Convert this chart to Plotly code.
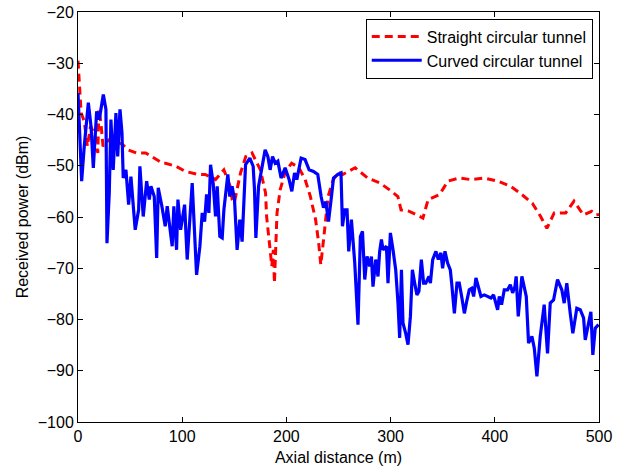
import plotly.graph_objects as go

# Straight circular tunnel (red dashed)
straight_x = [0, 1, 3, 6, 9, 12, 16, 19, 20, 22, 24, 27, 30, 36, 43, 48, 56, 65, 73, 81,
              84, 94, 103, 115, 122, 132, 140, 146, 148, 150, 156, 161, 167, 175, 180, 181,
              184, 186, 187.5, 188.5, 191, 194, 199, 205, 212, 218, 223, 228, 231, 233, 236,
              240, 245, 250, 254, 266, 278, 290, 299, 307, 310, 318, 325, 331, 336, 347, 355,
              366, 377, 390, 403, 415, 424, 436, 444, 450, 457, 468, 476, 485, 493, 497, 500]
straight_y = [-29.5, -33.5, -39.7, -41.3, -46.2, -42.3, -43.9, -47.5, -39.0, -41.6, -46.2,
              -45.5, -44.9, -45.2, -45.9, -46.9, -47.5, -47.5, -48.5, -49.5, -49.5, -50.1,
              -51.1, -51.7, -51.7, -52.7, -50.8, -54.0, -56.6, -57.2, -51.4, -48.2, -47.5,
              -50.8, -55.3, -59.9, -65.7, -69.6, -66.4, -72.9, -59.2, -54.7, -51.1, -49.5,
              -50.4, -52.7, -56.0, -60.5, -65.1, -69.3, -63.8, -56.0, -52.7, -51.3, -51.7,
              -50.4, -52.4, -53.4, -54.7, -56.0, -58.6, -58.9, -59.6, -60.2, -56.6, -55.6,
              -53.0, -52.4, -52.7, -52.4, -53.0, -54.0, -55.3, -57.3, -59.9, -62.2, -59.2,
              -59.2, -56.9, -59.6, -58.9, -59.6, -59.5]

# Curved circular tunnel (blue solid)
curved_x = [0, 1.9, 3.5, 6.0, 9.9, 12.5, 14.7, 17.9, 20.4, 24.3, 26.8, 27.8, 30.0, 31.6,
            33.8, 36.4, 38.1, 40.3, 42.2, 43.4, 46.0, 48.6, 50.8, 54.9, 58.2, 59.4, 62.6,
            65.9, 68.4, 70.0, 73.2, 75.5, 77.0, 80.5, 83.7, 85.6, 88.2, 90.4, 92.0, 94.6,
            95.9, 98.5, 102.3, 104.8, 109.6, 113.8, 117.0, 119.2, 121.5, 123.4, 125.6,
            127.2, 129.7, 132.0, 133.6, 136.1, 138.4, 140.0, 143.8, 145.7, 147.9, 150.2,
            152.7, 155.3, 157.5, 160.8, 164.9, 168.1, 169.4, 170.7, 173.3, 176.4, 179.6,
            182.2, 184.4, 186.7, 189.2, 191.8, 194.9, 198.8, 202.6, 205.2, 207.8, 210.0,
            214.1, 217.9, 221.8, 226.0, 230.1, 233.3, 235.6, 237.8, 240.4, 242.9, 245.2,
            249.3, 252.4, 253.8, 256.0, 258.2, 259.8, 262.4, 265.6, 268.7, 271.0, 273.0,
            275.2, 277.4, 280.0, 281.6, 283.1, 285.7, 287.9, 289.5, 291.2, 292.7, 296.0,
            297.5, 299.8, 302.3, 304.9, 307.1, 308.7, 310.4, 311.9, 314.5, 316.7, 319.0,
            320.9, 323.1, 325.3, 327.2, 329.5, 331.7, 333.7, 336.8, 338.2, 340.4, 343.5,
            345.8, 348.3, 349.9, 352.2, 354.7, 357.3, 358.6, 361.2, 363.7, 365.9, 368.2,
            370.8, 373.3, 375.5, 377.8, 379.7, 381.9, 384.2, 386.7, 389.9, 393.1, 396.3,
            398.8, 401.1, 402.7, 404.3, 406.5, 409.1, 412.3, 414.9, 417.1, 419.3, 420.5,
            422.5, 426.0, 430.2, 432.4, 435.6, 437.9, 440.4, 443.6, 447.4, 450.6, 453.2,
            456.4, 460.2, 464.3, 466.6, 469.1, 472.4, 474.9, 478.7, 482.0, 485.2, 486.8,
            490.0, 492.2, 494.1, 496.4, 499.5]
curved_y = [-35.8, -43.6, -53.0, -46.2, -37.7, -42.3, -50.4, -39.4, -41.0, -36.1, -39.0,
            -65.1, -55.3, -41.0, -50.8, -39.7, -48.2, -39.0, -43.6, -52.4, -50.8, -57.6,
            -52.1, -62.5, -58.6, -50.1, -59.9, -53.0, -56.6, -54.0, -56.0, -68.0, -54.3,
            -57.9, -61.8, -57.9, -61.8, -65.7, -57.9, -66.4, -56.6, -62.5, -57.6, -68.3,
            -53.4, -71.3, -65.7, -59.2, -60.9, -55.6, -59.2, -49.8, -53.4, -59.9, -54.0,
            -63.8, -64.1, -58.6, -51.7, -56.0, -54.0, -56.6, -66.4, -60.5, -64.8, -49.8,
            -48.5, -50.1, -54.7, -64.1, -54.0, -50.1, -46.9, -48.2, -50.8, -48.2, -49.5,
            -49.1, -52.4, -50.4, -52.7, -55.0, -51.4, -52.7, -48.5, -48.8, -50.8, -51.1,
            -51.7, -56.0, -58.2, -57.0, -60.9, -56.6, -52.4, -51.7, -51.4, -61.8, -58.6,
            -58.6, -66.7, -60.5, -69.0, -81.0, -63.8, -62.8, -72.2, -67.7, -69.6, -67.7,
            -73.6, -68.3, -71.6, -66.7, -64.4, -66.4, -65.7, -72.9, -63.1, -66.4, -70.3,
            -76.8, -83.6, -70.3, -80.7, -82.7, -84.9, -79.4, -70.3, -72.9, -75.2, -74.5,
            -68.3, -72.9, -72.9, -71.6, -72.9, -68.3, -66.7, -68.3, -67.0, -70.0, -66.7,
            -69.0, -70.3, -72.9, -78.8, -72.9, -72.9, -75.5, -78.8, -76.2, -74.2, -73.9,
            -75.5, -71.9, -73.6, -75.5, -75.2, -75.5, -75.8, -75.2, -76.8, -78.1, -75.5,
            -77.1, -74.2, -74.2, -73.2, -74.8, -73.6, -71.6, -79.4, -71.6, -75.5, -84.6,
            -83.3, -85.6, -91.1, -83.3, -77.1, -86.6, -76.8, -76.2, -72.2, -74.2, -76.8,
            -72.9, -78.8, -82.7, -77.8, -78.1, -79.7, -84.0, -80.7, -78.5, -86.9, -81.7,
            -81.0]

x_ticks = [0, 100, 200, 300, 400, 500]
y_ticks = [-100, -90, -80, -70, -60, -50, -40, -30, -20]

FONT = "Liberation Sans, Arial, Helvetica, sans-serif"
FS = 16

fig = go.Figure()
fig.add_trace(go.Scatter(x=straight_x, y=straight_y, mode="lines",
                         name="Straight circular tunnel",
                         line=dict(color="#ff0000", width=3, dash="8px,5px")))
fig.add_trace(go.Scatter(x=curved_x, y=curved_y, mode="lines",
                         name="Curved circular tunnel",
                         line=dict(color="#0000ff", width=3.2)))

axis_common = dict(showgrid=False, zeroline=False, showline=True, linecolor="black",
                   linewidth=1, mirror="ticks", ticks="inside", ticklen=5,
                   tickcolor="black", automargin=False,
                   tickfont=dict(size=FS, color="black", family=FONT))

fig.update_xaxes(range=[0, 500], tickvals=x_ticks,
                 title=dict(text="Axial distance (m)", font=dict(size=FS, color="black", family=FONT),
                            standoff=7),
                 **axis_common)
fig.update_yaxes(range=[-100, -20], tickvals=y_ticks,
                 title=dict(text="Received power (dBm)", font=dict(size=FS, color="black", family=FONT),
                            standoff=5),
                 **axis_common)

fig.update_layout(
    width=624, height=470,
    margin=dict(l=78, r=25, t=12, b=48, pad=0),
    plot_bgcolor="white", paper_bgcolor="white",
    font=dict(family=FONT, size=FS, color="black"),
    legend=dict(x=0.988, y=0.984, xanchor="right", yanchor="top",
                bgcolor="white", bordercolor="black", borderwidth=1,
                font=dict(size=FS, color="black", family=FONT),
                tracegroupgap=0, itemwidth=50),
    showlegend=True,
)

fig.write_html("out.html", config={"displayModeBar": False},
               post_script="document.body.style.margin='0px';")
